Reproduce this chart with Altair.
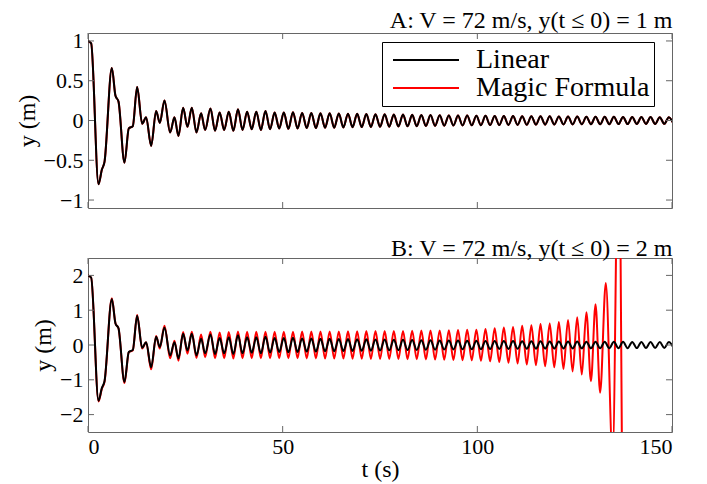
import altair as alt
import pandas as pd

FONT = "Liberation Serif"
FRAME = "#666666"

SERIES = ["Linear", "Magic Formula"]
COLORS = ["#000000", "#ff0000"]
X_TICKS = [0, 50, 100, 150]
YA_TICKS = [-1, -0.5, 0, 0.5, 1]
YB_TICKS = [-2, -1, 0, 1, 2]

TITLE_A = "A: V = 72 m/s, y(t ≤ 0) = 1 m"
TITLE_B = "B: V = 72 m/s, y(t ≤ 0) = 2 m"

# times of turning points (transient part)
T_TRANS = [0.0, 0.81, 2.70, 3.55, 4.24, 6.12, 7.06, 7.83, 9.37, 10.48, 11.51, 12.62,
           13.91, 14.93, 16.22, 17.50, 18.44, 19.64, 21.10, 22.21, 23.23, 24.43,
           25.55, 26.66, 27.86, 29.05, 30.08]
YA_TRANS = [1.0, 0.97, -0.80, -0.62, -0.52, 0.66, 0.31, 0.24, -0.53, -0.10, -0.07, 0.42,
            -0.04, 0.04, -0.32, 0.12, -0.03, 0.25, -0.15, 0.04, -0.195, 0.16,
            -0.08, 0.16, -0.15, 0.09, -0.12]
YB_LIN_TRANS = [2.0, 1.94, -1.60, -1.24, -1.04, 1.32, 0.62, 0.48, -1.06, -0.20, -0.14, 0.84,
                -0.08, 0.08, -0.64, 0.24, -0.06, 0.50, -0.30, 0.08, -0.39, 0.32,
                -0.16, 0.32, -0.30, 0.18, -0.24]
YB_MF_TRANS = [2.0, 1.94, -1.62, -1.26, -1.06, 1.34, 0.62, 0.48, -1.09, -0.21, -0.15, 0.86,
               -0.10, 0.08, -0.70, 0.26, -0.10, 0.55, -0.38, 0.12, -0.45, 0.37,
               -0.25, 0.38, -0.37, 0.30, -0.35]

# times of peaks / troughs in the steady oscillation
T_OSC = [31.45, 32.63, 33.81, 34.98, 36.16, 37.34, 38.52, 39.69, 40.87, 42.05,
         43.23, 44.40, 45.58, 46.76, 47.94, 49.11, 50.29, 51.47, 52.65, 53.82,
         55.00, 56.18, 57.36, 58.53, 59.71, 60.89, 62.07, 63.24, 64.42, 65.60,
         66.78, 67.95, 69.13, 70.31, 71.49, 72.66, 73.84, 75.02, 76.20, 77.37,
         78.55, 79.73, 80.91, 82.08, 83.26, 84.44, 85.62, 86.79, 87.97, 89.15,
         90.33, 91.50, 92.68, 93.86, 95.04, 96.21, 97.39, 98.57, 99.75, 100.92,
         102.10, 103.28, 104.46, 105.63, 106.81, 107.99, 109.17, 110.34, 111.52, 112.70,
         113.88, 115.05, 116.23, 117.41, 118.59, 119.76, 120.94, 122.12, 123.30, 124.47,
         125.65, 126.83, 128.01, 129.18, 130.36, 131.54, 132.72, 133.89, 135.07, 136.25,
         137.43, 138.60, 139.78, 140.96, 142.14, 143.31, 144.49, 145.67, 146.85, 148.02,
         149.20, 150.38]
YA_OSC = [0.15, -0.13, 0.10, -0.12, 0.11, -0.13, 0.14, -0.12, 0.11, -0.11,
          0.11, -0.12, 0.12, -0.11, 0.10, -0.10, 0.10, -0.105, 0.105, -0.10,
          0.095, -0.095, 0.095, -0.095, 0.09, -0.09, 0.09, -0.09, 0.088, -0.087,
          0.086, -0.085, 0.084, -0.083, 0.082, -0.081, 0.080, -0.079, 0.078, -0.077,
          0.076, -0.075, 0.074, -0.073, 0.072, -0.071, 0.070, -0.069, 0.068, -0.067,
          0.066, -0.065, 0.064, -0.063, 0.063, -0.062, 0.062, -0.061, 0.060, -0.060,
          0.059, -0.058, 0.058, -0.057, 0.057, -0.056, 0.056, -0.055, 0.055, -0.054,
          0.054, -0.053, 0.053, -0.052, 0.052, -0.051, 0.051, -0.050, 0.050, -0.049,
          0.049, -0.048, 0.048, -0.047, 0.047, -0.047, 0.046, -0.046, 0.046, -0.045,
          0.045, -0.045, 0.044, -0.044, 0.044, -0.043, 0.043, -0.043, 0.042, -0.042,
          0.042, -0.042]
YB_LIN_OSC = [0.30, -0.26, 0.20, -0.24, 0.22, -0.26, 0.28, -0.24, 0.22, -0.22,
              0.22, -0.24, 0.24, -0.22, 0.20, -0.20, 0.20, -0.21, 0.21, -0.20,
              0.19, -0.19, 0.19, -0.19, 0.18, -0.18, 0.18, -0.18, 0.176, -0.174,
              0.172, -0.17, 0.168, -0.166, 0.164, -0.162, 0.16, -0.158, 0.156, -0.154,
              0.152, -0.15, 0.148, -0.146, 0.144, -0.142, 0.14, -0.138, 0.136, -0.134,
              0.132, -0.13, 0.128, -0.126, 0.126, -0.124, 0.124, -0.122, 0.12, -0.12,
              0.118, -0.116, 0.116, -0.114, 0.114, -0.112, 0.112, -0.11, 0.11, -0.108,
              0.108, -0.106, 0.106, -0.104, 0.104, -0.102, 0.102, -0.10, 0.10, -0.098,
              0.098, -0.096, 0.096, -0.094, 0.094, -0.094, 0.092, -0.092, 0.092, -0.09,
              0.09, -0.09, 0.088, -0.088, 0.088, -0.086, 0.086, -0.086, 0.084, -0.084,
              0.084, -0.084]
YB_MF_OSC = [0.38, -0.38, 0.36, -0.38, 0.37, -0.39, 0.39, -0.38, 0.38, -0.38,
             0.38, -0.38, 0.38, -0.38, 0.38, -0.38, 0.38, -0.38, 0.38, -0.38,
             0.385, -0.385, 0.385, -0.385, 0.39, -0.39, 0.39, -0.39, 0.39, -0.39,
             0.395, -0.395, 0.395, -0.395, 0.40, -0.40, 0.40, -0.40, 0.40, -0.40,
             0.405, -0.405, 0.405, -0.41, 0.41, -0.41, 0.415, -0.415, 0.42, -0.42,
             0.42, -0.425, 0.425, -0.43, 0.43, -0.435, 0.435, -0.44, 0.44, -0.45,
             0.46, -0.47, 0.48, -0.49, 0.50, -0.51, 0.52, -0.53, 0.55, -0.56,
             0.57, -0.58, 0.60, -0.61, 0.62, -0.64, 0.66, -0.69, 0.72, -0.76,
             0.80, -0.85, 0.94, -1.04, 1.17, -1.37]
# blow-up of the Magic Formula run (goes off scale, then ends)
T_MF_TAIL = [133.0, 134.75, 136.45, 137.9]
YB_MF_TAIL = [1.78, -3.2, 8.0, -15.0]

rows = []


def add(panel, series, ts, ys):
    for t, y in zip(ts, ys):
        rows.append({"panel": panel, "series": series, "t": t, "y": y})


add("A", "Linear", T_TRANS + T_OSC, YA_TRANS + YA_OSC)
add("A", "Magic Formula", T_TRANS + T_OSC, YA_TRANS + YA_OSC)
add("B", "Linear", T_TRANS + T_OSC, YB_LIN_TRANS + YB_LIN_OSC)
add("B", "Magic Formula", T_TRANS + T_OSC[:len(YB_MF_OSC)] + T_MF_TAIL,
    YB_MF_TRANS + YB_MF_OSC + YB_MF_TAIL)
df = pd.DataFrame(rows)

W = 584


def panel(name, title, ydom, yticks, height, show_x, show_legend):
    d = df[df.panel == name]
    xscale = alt.Scale(domain=[0, 150], nice=False, zero=False)
    yscale = alt.Scale(domain=ydom, nice=False, zero=False)
    if show_x:
        xaxis = alt.Axis(values=X_TICKS, title="t (s)", labelPadding=4, titlePadding=0)
    else:
        xaxis = alt.Axis(values=X_TICKS, labels=False, title=None)
    yaxis = alt.Axis(values=yticks, title="y (m)", format="~g", labelPadding=5, titlePadding=4)
    if show_legend:
        legend = alt.Legend(title=None, orient="none", legendX=294, legendY=9, padding=4,
                            strokeColor="black", fillColor="white",
                            symbolType="M-3,0H3", symbolSize=484, symbolStrokeWidth=1.8,
                            labelFont=FONT, labelFontSize=28, labelOffset=36, labelLimit=400,
                            rowPadding=0, symbolOffset=26, labelColor="black")
    else:
        legend = None
    color = alt.Color("series:N", scale=alt.Scale(domain=SERIES, range=COLORS), legend=legend)
    base = alt.Chart(d).mark_line(strokeWidth=2, interpolate="monotone", clip=True)
    red = base.transform_filter(alt.datum.series == "Magic Formula").encode(
        x=alt.X("t:Q", scale=xscale, axis=xaxis),
        y=alt.Y("y:Q", scale=yscale, axis=yaxis),
        color=color,
    )
    black = base.transform_filter(alt.datum.series == "Linear").encode(
        x=alt.X("t:Q", scale=xscale),
        y=alt.Y("y:Q", scale=yscale),
        color=color,
    )
    xt = pd.DataFrame({"t": X_TICKS})
    yt = pd.DataFrame({"y": yticks})
    tick = dict(color=FRAME, strokeWidth=1)
    xb = alt.Chart(xt).mark_rule(**tick).encode(x=alt.X("t:Q", scale=xscale), y=alt.value(height), y2=alt.value(height - 6))
    xtp = alt.Chart(xt).mark_rule(**tick).encode(x=alt.X("t:Q", scale=xscale), y=alt.value(0), y2=alt.value(6))
    yl = alt.Chart(yt).mark_rule(**tick).encode(y=alt.Y("y:Q", scale=yscale), x=alt.value(0), x2=alt.value(6))
    yr = alt.Chart(yt).mark_rule(**tick).encode(y=alt.Y("y:Q", scale=yscale), x=alt.value(W), x2=alt.value(W - 6))
    return alt.layer(red, black, xb, xtp, yl, yr).properties(
        width=W, height=height,
        title=alt.TitleParams(title, anchor="end", fontSize=24, font=FONT,
                              fontWeight="normal", color="black", offset=-3),
    )


a = panel("A", TITLE_A, [-1.1, 1.1], YA_TICKS, 175, False, True)
b = panel("B", TITLE_B, [-2.5, 2.5], YB_TICKS, 174, True, False)

chart = alt.vconcat(a, b, spacing=50, bounds="flush").resolve_legend(color="independent").properties(
    padding={"left": 6, "top": 0, "right": 0, "bottom": 0}
).configure_view(
    stroke=FRAME, strokeWidth=1
).configure_axis(
    labelFont=FONT, titleFont=FONT, labelFontSize=22, titleFontSize=24,
    titleFontWeight="normal", labelColor="black", titleColor="black",
    grid=False, domain=False, ticks=False,
)

chart.save("out.html", embed_options={"renderer": "svg", "actions": False})
